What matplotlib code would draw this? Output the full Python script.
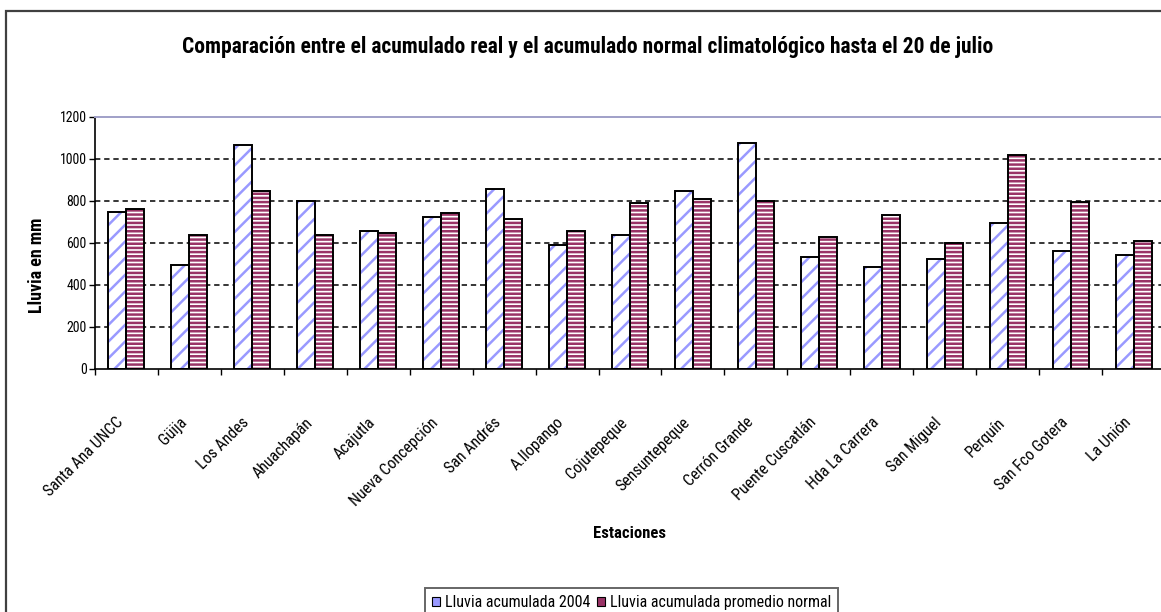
import matplotlib
matplotlib.use("Agg")
import matplotlib.pyplot as plt
from matplotlib.patches import Rectangle, Patch
import numpy as np

plt.rcParams['font.family'] = ['Roboto Condensed', 'DejaVu Sans']
plt.rcParams['hatch.linewidth'] = 1.8

estaciones = ["Santa Ana UNCC", "Güija", "Los Andes", "Ahuachapán", "Acajutla",
              "Nueva Concepción", "San Andrés", "A.Ilopango", "Cojutepeque",
              "Sensuntepeque", "Cerrón Grande", "Puente Cuscatlán", "Hda La Carrera",
              "San Miguel", "Perquín", "San Fco Gotera", "La Unión"]
lluvia_2004 = [750, 495, 1067, 800, 657, 722, 857, 591, 637, 850, 1076, 535, 486, 522, 696, 560, 543]
lluvia_normal = [762, 638, 848, 638, 646, 741, 715, 658, 789, 810, 800, 630, 734, 598, 1019, 794, 609]
yticks = [0, 200, 400, 600, 800, 1000, 1200]
titulo = "Comparación entre el acumulado real y el acumulado normal climatológico hasta el 20 de julio"
serie1 = "Lluvia acumulada 2004"
serie2 = "Lluvia acumulada promedio normal"

W, H = 1161, 612
fig = plt.figure(figsize=(W / 100, H / 100), dpi=100)
fig.patch.set_facecolor('white')

# outer chart frame
fig.add_artist(Rectangle((6 / W, -0.1), 1.2, 1 - 11 / H + 0.1, transform=fig.transFigure,
                         fill=False, edgecolor='#404040', linewidth=1.6))

cat_w = 62.94
ax = fig.add_axes([95 / W, 1 - 369 / H, 17 * cat_w / W, 252 / H])
n = len(estaciones)
x = np.arange(n) + 0.5
bw = 0.286
blue = '#9999ff'
maroon = '#993366'

ax.set_ylim(0, 1200)
ax.set_xlim(0, n)
for v in yticks[1:-1]:
    ax.axhline(v, color='black', linestyle=(0, (3.5, 2.5)), linewidth=1.1, zorder=1)

ax.bar(x - bw / 2, lluvia_2004, bw, facecolor='white', edgecolor=blue, hatch='//',
       linewidth=0, zorder=2)
ax.bar(x - bw / 2, lluvia_2004, bw, fill=False, edgecolor='black', linewidth=1.4, zorder=3)
ax.bar(x + bw / 2, lluvia_normal, bw, facecolor='white', edgecolor=maroon, hatch='----',
       linewidth=0, zorder=2)
ax.bar(x + bw / 2, lluvia_normal, bw, fill=False, edgecolor='black', linewidth=1.4, zorder=3)

ax.set_yticks(yticks)
ax.set_yticklabels([str(v) for v in yticks], fontsize=10)
ax.tick_params(axis='y', length=4, width=1, pad=2)
ax.set_xticks(np.arange(n + 1), minor=True)
ax.set_xticks(x)
ax.set_xticklabels(estaciones, rotation=45, ha='right', va='top', fontsize=11.5)
ax.tick_params(axis='x', which='major', length=0, pad=33)
ax.tick_params(axis='x', which='minor', length=4, width=1)

for s in ['left', 'bottom']:
    ax.spines[s].set_color('black')
    ax.spines[s].set_linewidth(1.2)
ax.spines['top'].set_color('#a0a0c8')
ax.spines['top'].set_linewidth(1.4)
ax.spines['right'].set_color('black')

fig.text(588 / W, 1 - 47 / H, titulo, ha='center', va='center', fontsize=15.5, fontweight='bold')
fig.text(37 / W, 1 - 265 / H, "Lluvia en mm", ha='center', va='center', rotation=90,
         fontsize=13, fontweight='bold')
fig.text(630 / W, 1 - 534 / H, "Estaciones", ha='center', va='center', fontsize=12,
         fontweight='bold')

handles = [Patch(facecolor=blue, edgecolor='black', linewidth=0.8),
           Patch(facecolor=maroon, edgecolor='black', linewidth=0.8)]
leg = fig.legend(handles, [serie1, serie2], loc='upper left',
                 bbox_to_anchor=(425 / W, 1 - 588 / H), ncol=2, fontsize=11.5,
                 frameon=True, fancybox=False, handlelength=0.5, handleheight=0.5,
                 handletextpad=0.3, columnspacing=0.4, borderpad=0.45, borderaxespad=0)
leg.get_frame().set_edgecolor('#404040')
leg.get_frame().set_linewidth(1.4)

fig.savefig('out.png', dpi=100)
